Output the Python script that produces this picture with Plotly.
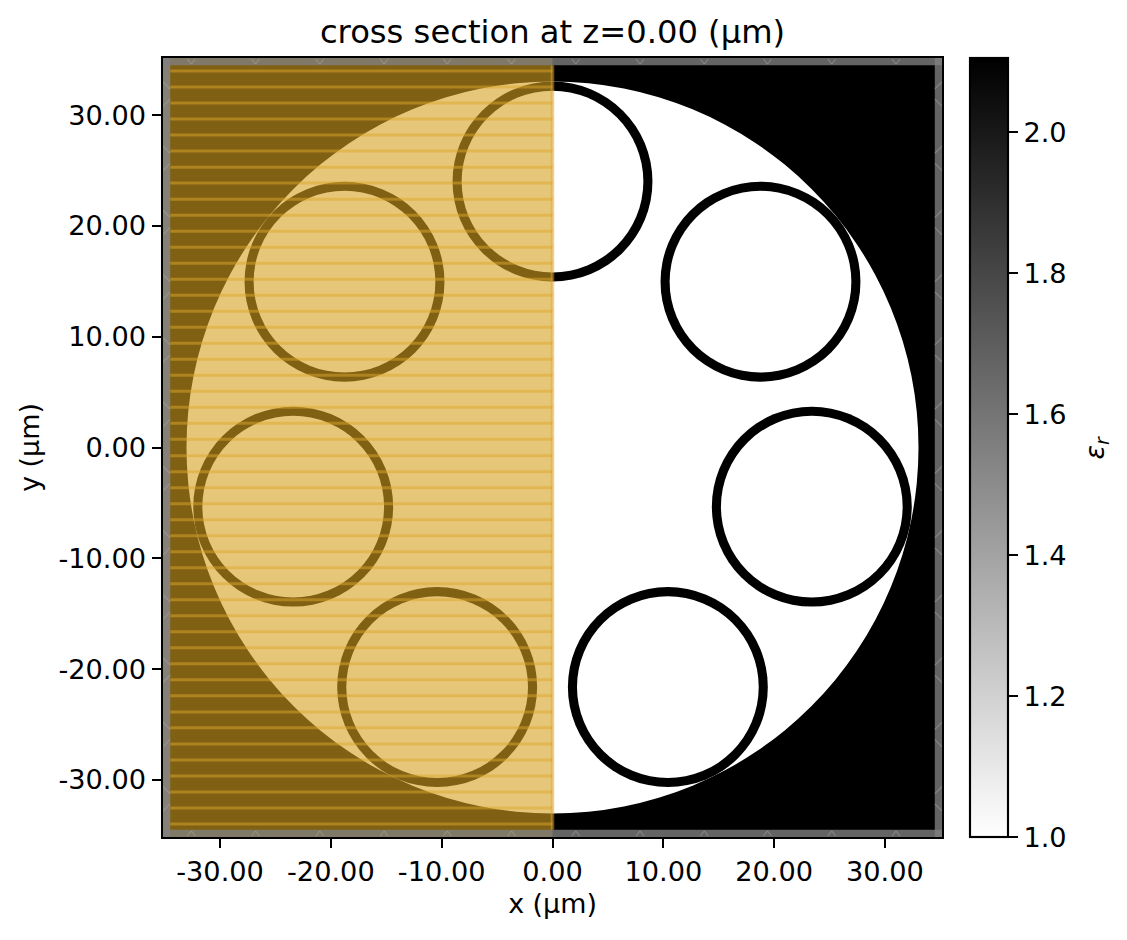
import plotly.graph_objects as go

# Domain and cladding (um)
half_size = 35.15
pml_edge = 34.5
cladding_radius = 33.03
tube_outer = 9.02
tube_inner = 8.2

# Tube centres
tube_x = [0.0, 18.77, 23.4, 10.41, -18.77, -23.4, -10.41]
tube_y = [24.0, 14.96, -5.34, -21.62, 14.96, -5.34, -21.62]

# Symmetry stripes on the left half (upper half, mirrored below)
stripe_y = [33.97, 32.53, 31.08, 29.64, 28.19, 26.75, 25.30, 23.86, 22.41, 20.97, 19.52, 18.08,
            16.63, 15.19, 13.74, 12.30, 10.85, 9.41, 7.96, 6.52, 5.07, 3.63, 2.18, 0.74]

# PML chevron positions
chevron_x = [-32.6, -26.8, -21.0, -15.2, -9.5, -3.7, 2.1, 7.9, 13.7, 19.4, 25.2, 31.0]
chevron_y = [31.9, 26.1, 20.3, 14.5, 8.8, 3.0, -2.8, -8.6, -14.4, -20.1, -25.9, -31.7]

axis_ticks = [-30, -20, -10, 0, 10, 20, 30]
axis_labels = ["-30.00", "-20.00", "-10.00", "0.00", "10.00", "20.00", "30.00"]
cbar_ticks = [1.0, 1.2, 1.4, 1.6, 1.8, 2.0]
cbar_labels = ["1.0", "1.2", "1.4", "1.6", "1.8", "2.0"]
eps_min = 1.0
eps_max = 2.105
background_eps = [[eps_max, eps_max], [eps_max, eps_max]]

FONT = "DejaVu Sans"
ORANGE = "rgba(213,162,33,0.6)"
STRIPE = "rgba(222,165,40,0.5)"
PML = "rgba(128,128,128,0.78)"
PML_LEFT = "rgba(135,135,135,0.85)"
CHEVRON = "rgba(170,170,170,0.4)"

# the page adds a small body margin around the figure
FIG_W = 1111
FIG_H = 924
OFFSET = 8

fig = go.Figure()

fig.add_trace(go.Heatmap(
    x=[-half_size, half_size],
    y=[-half_size, half_size],
    z=background_eps,
    zmin=eps_min,
    zmax=eps_max,
    colorscale=[[0, "white"], [1, "black"]],
    hoverinfo="skip",
    colorbar=dict(
        x=1.036, xanchor="left", xpad=0, y=0.5, yanchor="middle", ypad=0,
        len=1, lenmode="fraction", thickness=38,
        outlinecolor="black", outlinewidth=2.15,
        ticks="outside", ticklen=9.4, tickwidth=2.15, tickcolor="black",
        tickvals=cbar_ticks, ticktext=cbar_labels,
        tickfont=dict(family=FONT, size=27.2, color="black"),
    ),
))


def circle(cx, cy, r, color):
    fig.add_shape(type="circle", x0=cx - r, x1=cx + r, y0=cy - r, y1=cy + r,
                  fillcolor=color, line_width=0, layer="above")


def rect(x0, x1, y0, y1, color):
    fig.add_shape(type="rect", x0=x0, x1=x1, y0=y0, y1=y1,
                  fillcolor=color, line_width=0, layer="above")


def seg(x0, y0, x1, y1, color, width):
    fig.add_shape(type="line", x0=x0, y0=y0, x1=x1, y1=y1,
                  line=dict(color=color, width=width), layer="above")


# Fibre cross section
circle(0, 0, cladding_radius, "white")
for cx, cy in zip(tube_x, tube_y):
    circle(cx, cy, tube_outer, "black")
    circle(cx, cy, tube_inner, "white")

# Symmetry overlay
rect(-half_size, 0, -half_size, half_size, ORANGE)
for y in stripe_y:
    seg(-pml_edge, y, 0, y, STRIPE, 3)
    seg(-pml_edge, -y, 0, -y, STRIPE, 3)
seg(0, -pml_edge, 0, pml_edge, STRIPE, 3.5)

# PML bands
rect(-half_size, -pml_edge, -half_size, half_size, PML_LEFT)
rect(pml_edge, half_size, -half_size, half_size, PML)
rect(-half_size, half_size, pml_edge, half_size, PML)
rect(-half_size, half_size, -half_size, -pml_edge, PML)

# PML chevrons
for x in chevron_x:
    seg(x - 0.35, half_size - 0.1, x, pml_edge + 0.1, CHEVRON, 1.5)
    seg(x + 0.35, half_size - 0.1, x, pml_edge + 0.1, CHEVRON, 1.5)
    seg(x - 0.35, -half_size + 0.1, x, -pml_edge - 0.1, CHEVRON, 1.5)
    seg(x + 0.35, -half_size + 0.1, x, -pml_edge - 0.1, CHEVRON, 1.5)
for y in chevron_y:
    for side in [-1, 1]:
        seg(side * pml_edge, y + 0.45, side * half_size, y + 1.1, CHEVRON, 1.5)
        seg(side * pml_edge, y - 0.45, side * half_size, y - 1.1, CHEVRON, 1.5)

axis_style = dict(
    range=[-half_size, half_size],
    tickmode="array",
    tickvals=axis_ticks,
    ticktext=axis_labels,
    ticks="outside",
    ticklen=9.4,
    tickwidth=2.15,
    tickcolor="black",
    tickfont=dict(family=FONT, size=27.2, color="black"),
    showgrid=False,
    zeroline=False,
    showline=True,
    mirror=True,
    linecolor="black",
    linewidth=2.15,
)

fig.update_layout(
    width=FIG_W,
    height=FIG_H,
    autosize=False,
    margin=dict(l=163 - OFFSET, r=FIG_W - (942 - OFFSET), t=58 - OFFSET, b=FIG_H - (837 - OFFSET), pad=0),
    paper_bgcolor="white",
    plot_bgcolor="white",
    font=dict(family=FONT, size=26.9, color="black"),
    title=dict(text="cross section at z=0.00 (μm)", x=(552.5 - OFFSET) / FIG_W, xanchor="center",
               y=1 - (32 - OFFSET) / FIG_H, yanchor="middle", font=dict(family=FONT, size=32.2, color="black")),
    xaxis=dict(title=dict(text="x (μm)", font=dict(family=FONT, size=26.9), standoff=8), **axis_style),
    yaxis=dict(title=dict(text="y (μm)", font=dict(family=FONT, size=26.9), standoff=11), **axis_style),
    annotations=[dict(
        text="<i>ε<sub>r</sub></i>", textangle=-90, showarrow=False,
        xref="paper", yref="paper", x=(1096 - 163) / 779, y=0.5,
        xanchor="center", yanchor="middle",
        font=dict(family=FONT, size=26.9, color="black"),
    )],
)

fig.write_html("out.html")
